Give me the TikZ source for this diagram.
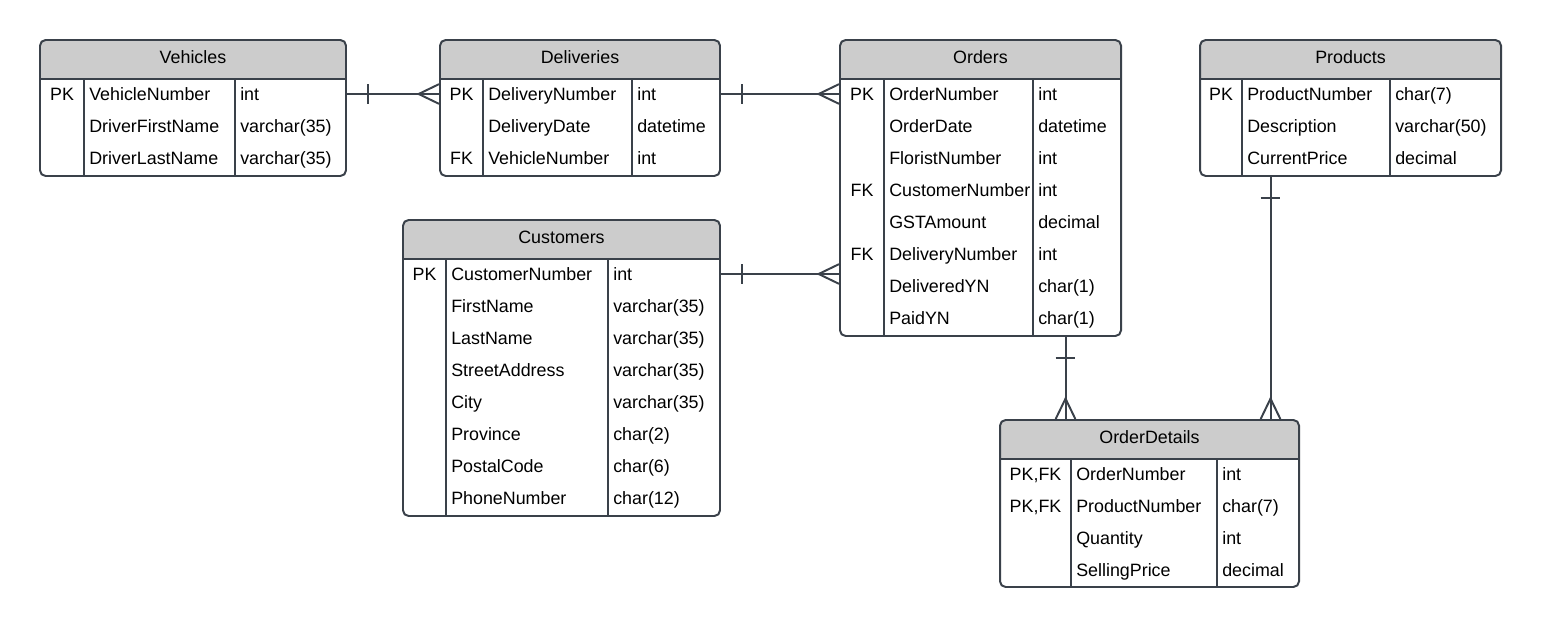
\documentclass[tikz,border=0pt]{standalone}
\usepackage{fontspec}
\setmainfont{Liberation Sans}
\usetikzlibrary{fit, decorations.markings}
\definecolor{linegray}{HTML}{3A414A}
\definecolor{headgray}{HTML}{CCCCCC}
\tikzstyle{tablebox} = [rectangle, draw=linegray, line width=1.4pt, rounded corners=4pt, inner sep=0pt]
\tikzstyle{tableline} = [draw=linegray, line width=1.4pt]
\tikzstyle{cell} = [inner sep=0pt, text height=9pt, text depth=0pt, font=\fontsize{12.7}{15}\selectfont]
\tikzstyle{relline} = [draw=linegray, line width=1.4pt]
\tikzstyle{onemany} = [relline, postaction={decorate}, decoration={markings,
	mark=at position 15pt with {\draw[relline] (0,-7pt) -- (0,7pt);},
	mark=at position 1 with {\draw[relline] (0,7pt) -- (-14.5pt,0) -- (0,-7pt);}}]

\newcommand{\ertable}[9]{%
	\pgfmathsetmacro{\hb}{#4+39}
	\fill[headgray] (#3,\hb) [rounded corners=4pt] -- (#3,#4) -- (#5,#4) [sharp corners] -- (#5,\hb) -- cycle;
	\node (#1) [tablebox, fit={(#3,#4) (#5,#6)}] {};
	\draw[tableline] (#3,\hb) -- (#5,\hb);
	\draw[tableline] (#7,\hb) -- (#7,#6);
	\draw[tableline] (#8,\hb) -- (#8,#6);
	\node (#1-title) [cell] at ({(#3+#5)/2},{#4+17.5}) {#2};
	\foreach \k/\f/\t [count=\i] in {#9} {
		\pgfmathsetmacro{\ry}{\hb+15+32*(\i-1)}
		\node (#1-key\i)	[cell]				at ({(#3+#7)/2},\ry)	{\k};
		\node (#1-\i)		[cell, anchor=west]	at (#7+5,\ry)		{\f};
		\node (#1-type\i)	[cell, anchor=west]	at (#8+5,\ry)		{\t};
	}
}

\begin{document}
\begin{tikzpicture}[x=0.025cm, y=-0.025cm]

\useasboundingbox (0,0) rectangle (1542,628);

\ertable{vehicles}{Vehicles}{40}{40}{346}{176}{84}{235}{PK/VehicleNumber/int, /DriverFirstName/varchar(35), /DriverLastName/varchar(35)}
\ertable{deliveries}{Deliveries}{440}{40}{720}{176}{483}{632}{PK/DeliveryNumber/int, /DeliveryDate/datetime, FK/VehicleNumber/int}
\ertable{orders}{Orders}{840}{40}{1121}{336}{884}{1033}{PK/OrderNumber/int, /OrderDate/datetime, /FloristNumber/int, FK/CustomerNumber/int, /GSTAmount/decimal, FK/DeliveryNumber/int, /DeliveredYN/char(1), /PaidYN/char(1)}
\ertable{products}{Products}{1200}{40}{1501}{176}{1242}{1390}{PK/ProductNumber/char(7), /Description/varchar(50), /CurrentPrice/decimal}
\ertable{customers}{Customers}{403}{220}{720}{516}{446}{608}{PK/CustomerNumber/int, /FirstName/varchar(35), /LastName/varchar(35), /StreetAddress/varchar(35), /City/varchar(35), /Province/char(2), /PostalCode/char(6), /PhoneNumber/char(12)}
\ertable{orderdetails}{OrderDetails}{1000}{420}{1299}{587}{1071}{1217}{{PK,FK}/OrderNumber/int, {PK,FK}/ProductNumber/char(7), /Quantity/int, /SellingPrice/decimal}

\draw [onemany] (vehicles.east |- vehicles-1) -- (deliveries.west |- vehicles-1);
\draw [onemany] (deliveries.east |- deliveries-1) -- (orders.west |- deliveries-1);
\draw [onemany] (customers.east |- customers-1) -- (orders.west |- customers-1);
\draw [onemany] ([shift={(85,0)}]orders.south) coordinate (od) -- (od |- orderdetails.north);
\draw [onemany] ([shift={(-80,0)}]products.south) coordinate (pd) -- (pd |- orderdetails.north);

\end{tikzpicture}
\end{document}
